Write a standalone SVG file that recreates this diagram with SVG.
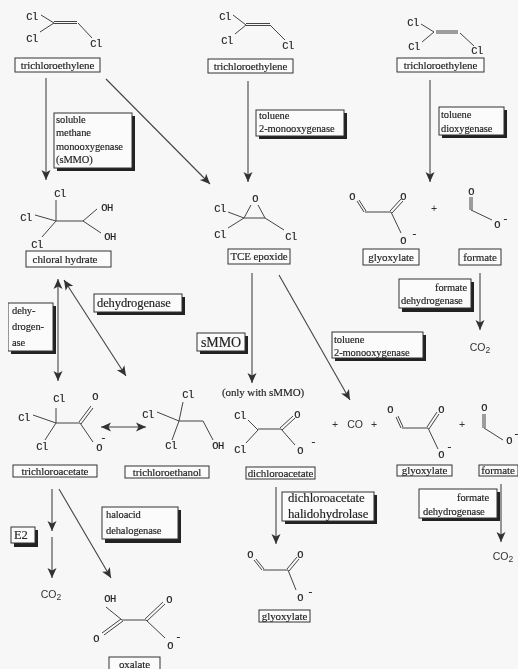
<svg xmlns="http://www.w3.org/2000/svg" width="518" height="669" viewBox="0 0 518 669">
<style>
text{fill:#222;stroke:#222;stroke-width:.15}
.a{font:10.5px "Liberation Mono",monospace;text-anchor:middle;letter-spacing:-.6px}
.l{font:11px "Liberation Serif",serif;text-anchor:middle;letter-spacing:-.1px}
.e{font:10.5px "Liberation Serif",serif;letter-spacing:-.1px}
.big{font:12.5px "Liberation Serif",serif}
.s{font:10.5px "Liberation Sans",sans-serif;text-anchor:middle;fill:#333;stroke:none}
.b{fill:none;stroke:#444;stroke-width:1}
.box{fill:#fbfbfb;stroke:#333;stroke-width:1}
.sh{fill:#222}
.c{fill:none;stroke:#444;stroke-width:1.1;marker-end:url(#h)}
.d{marker-start:url(#h)}
</style>
<defs>
<marker id="h" viewBox="-10 -5 11 10" refX="0" refY="0" markerUnits="userSpaceOnUse" markerWidth="11" markerHeight="10" orient="auto-start-reverse">
<path d="M0,0L-10,-4.500L-7.500,0L-10,4.500Z" fill="#333"/>
</marker>
<filter id="soft" x="0" y="0" width="100%" height="100%"><feGaussianBlur stdDeviation="0.35"/></filter>
</defs>
<rect width="518" height="669" fill="#f7f7f7"/>
<g filter="url(#soft)">
<g id="connectors">
<path class="c" d="M46,78V180"/>
<path class="c" d="M106,79L210,184"/>
<path class="c" d="M248,81V182"/>
<path class="c" d="M430,80V182"/>
<path class="c" d="M480,273V330"/>
<path class="c d" d="M58,279V381"/>
<path class="c d" d="M64,280L126,376"/>
<path class="c" d="M252,273V383"/>
<path class="c" d="M279,275L350,400"/>
<path class="c d" d="M101,427H146"/>
<path class="c" d="M52,489V531"/>
<path class="c" d="M52,537V578"/>
<path class="c" d="M59,489L111,578"/>
<path class="c" d="M276,487V544"/>
<path class="c" d="M501,484V542"/>
</g>
<g id="tce1">
<path class="b" d="M41,15L54,23M40,32L54,23M54,21.500H77M54,23.500H77M78,23L92,38"/>
<text class="a" x="32" y="20">Cl</text><text class="a" x="32" y="42">Cl</text><text class="a" x="96" y="47">Cl</text>
<rect class="box" x="15" y="58" width="85" height="14"/><text class="l" x="57.500" y="68.500">trichloroethylene</text>
</g>
<g id="tce2">
<path class="b" d="M233,15L246,25M235,34L246,25M246,23.500H270M246,25.500H270M270,25L285,40"/>
<text class="a" x="225" y="20">Cl</text><text class="a" x="227" y="44">Cl</text><text class="a" x="288" y="49">Cl</text>
<rect class="box" x="208" y="59" width="85" height="14"/><text class="l" x="250.500" y="69.500">trichloroethylene</text>
</g>
<g id="tce3">
<path class="b" d="M421,24L434,32M422,42L434,32M436,31H458M436,33H458M460,33L474,46"/>
<text class="a" x="413" y="26">Cl</text><text class="a" x="414" y="50">Cl</text><text class="a" x="477" y="54">Cl</text>
<rect class="box" x="397" y="58" width="87" height="14"/><text class="l" x="440.500" y="68.500">trichloroethylene</text>
</g>
<g id="enzyme-smmo">
<rect class="sh" x="57" y="116" width="78" height="55"/><rect class="box" x="54" y="113" width="78" height="55"/>
<text class="e" x="56" y="122.500">soluble</text><text class="e" x="56" y="135.500">methane</text><text class="e" x="56" y="149.500">monooxygenase</text><text class="e" x="56" y="163">(sMMO)</text>
</g>
<g id="enzyme-t2m">
<rect class="sh" x="259" y="113" width="88" height="26"/><rect class="box" x="256" y="110" width="88" height="26"/>
<text class="e" x="259" y="119">toluene</text><text class="e" x="259" y="132">2-monooxygenase</text>
</g>
<g id="enzyme-tdo">
<rect class="sh" x="442" y="110" width="65" height="28"/><rect class="box" x="439" y="107" width="65" height="28"/>
<text class="e" x="441" y="118">toluene</text><text class="e" x="441" y="132">dioxygenase</text>
</g>
<g id="chloral-hydrate">
<path class="b" d="M56,200V221M35,215L56,221M56,221L42,237M56,221H83M83,221L97,209M83,221L101,233"/>
<text class="a" x="60" y="197">Cl</text><text class="a" x="26" y="221">Cl</text><text class="a" x="37" y="248">Cl</text><text class="a" x="107" y="211">OH</text><text class="a" x="110" y="240">OH</text>
<rect class="box" x="26" y="251" width="85" height="16"/><text class="l" x="65" y="262.500">chloral hydrate</text>
</g>
<g id="tce-epoxide">
<path class="b" d="M228,212L244,218M228,228L244,218M244,218L251,205M258,205L265,218M244,218H265M265,218L284,230"/>
<text class="a" x="220" y="212">Cl</text><text class="a" x="220" y="238">Cl</text><text class="a" x="255" y="202">O</text><text class="a" x="291" y="240">Cl</text>
<rect class="box" x="228" y="249" width="62" height="15"/><text class="l" x="259" y="260">TCE epoxide</text>
</g>
<g id="glyoxylate1">
<path class="b" d="M357,201L364,212M359,200L366,211M365,212H391M390,211L401,199M392,213L403,201M391,212L401,233"/>
<text class="a" x="352" y="200">O</text><text class="a" x="403" y="200">O</text><text class="a" x="403" y="244">O</text><text class="a" x="414" y="237">-</text>
<text class="s" x="434" y="212">+</text>
<rect class="box" x="363" y="249" width="56" height="16"/><text class="l" x="391" y="260.500">glyoxylate</text>
</g>
<g id="formate1">
<path class="b" d="M470,197V210M472,197V210M471,210L492,220"/>
<text class="a" x="471" y="195">O</text><text class="a" x="497" y="228">O</text><text class="a" x="505" y="222">-</text>
<rect class="box" x="459" y="249" width="42" height="16"/><text class="l" x="480" y="260.500">formate</text>
</g>
<g id="enzyme-fdh1">
<rect class="sh" x="402" y="282" width="72" height="30"/><rect class="box" x="399" y="279" width="72" height="29"/>
<text class="e" x="435" y="291">formate</text><text class="e" x="401" y="304">dehydrogenase</text>
</g>
<g id="co2-1"><text class="s" x="480" y="351">CO<tspan font-size="8.500" dy="2">2</tspan></text></g>
<g id="enzyme-dh1">
<rect class="sh" x="11" y="306" width="45" height="48"/><rect class="box" x="8" y="303" width="45" height="48"/>
<text class="e" x="12" y="314">dehy-</text><text class="e" x="12" y="330">drogen-</text><text class="e" x="12" y="346">ase</text>
</g>
<g id="enzyme-dh2">
<rect class="sh" x="97" y="297" width="88" height="18"/><rect class="box" x="94" y="294" width="88" height="18"/>
<text class="e big" x="97" y="307">dehydrogenase</text>
</g>
<g id="enzyme-smmo2">
<rect class="sh" x="200" y="336" width="48" height="18"/><rect class="box" x="197" y="333" width="48" height="18"/>
<text class="e big" x="201" y="347" style="font-size:14px">sMMO</text>
</g>
<g id="note"><text class="l" x="263" y="396">(only with sMMO)</text></g>
<g id="enzyme-t2m2">
<rect class="sh" x="335" y="335" width="91" height="26"/><rect class="box" x="332" y="332" width="91" height="26"/>
<text class="e" x="334" y="343">toluene</text><text class="e" x="334" y="356">2-monooxygenase</text>
</g>
<g id="trichloroacetate">
<path class="b" d="M33,415L56,423M56,408V423M56,423L45,440M56,423H80M79,422L91,406M81,424L93,408M80,423L93,442"/>
<text class="a" x="59" y="402">Cl</text><text class="a" x="24" y="421">Cl</text><text class="a" x="42" y="450">Cl</text><text class="a" x="95" y="400">O</text><text class="a" x="99" y="451">O</text><text class="a" x="103" y="441">-</text>
<rect class="box" x="13" y="465" width="84" height="12"/><text class="l" x="55" y="474.500">trichloroacetate</text>
</g>
<g id="trichloroethanol">
<path class="b" d="M157,412L179,421M179,421L183,402M179,421L172,440M179,421H203M203,421L213,440"/>
<text class="a" x="188" y="398">Cl</text><text class="a" x="148" y="418">Cl</text><text class="a" x="171" y="449">Cl</text><text class="a" x="218" y="449">OH</text>
<rect class="box" x="125" y="466" width="84" height="12"/><text class="l" x="167" y="475.500">trichloroethanol</text>
</g>
<g id="dichloroacetate">
<path class="b" d="M248,420L258,430M246,443L258,430M258,429H281M280,428L293,416M282,430L295,418M281,429L295,445"/>
<text class="a" x="240" y="419">Cl</text><text class="a" x="240" y="453">Cl</text><text class="a" x="297" y="418">O</text><text class="a" x="300" y="454">O</text><text class="a" x="313" y="445">-</text>
<rect class="box" x="246" y="467" width="69" height="12"/><text class="l" x="280.500" y="476.500">dichloroacetate</text>
</g>
<g id="co">
<text class="s" x="335" y="428">+</text><text class="s" x="355" y="428">CO</text><text class="s" x="374" y="428">+</text>
</g>
<g id="glyoxylate2">
<path class="b" d="M396,417L401,428M398,416L403,427M402,428H428M427,427L437,412M429,429L439,414M428,428L438,449"/>
<text class="a" x="390" y="413">O</text><text class="a" x="441" y="413">O</text><text class="a" x="441" y="458">O</text><text class="a" x="449" y="450">-</text>
<text class="s" x="462" y="428">+</text>
<rect class="box" x="397" y="465" width="55" height="11"/><text class="l" x="424.500" y="474">glyoxylate</text>
</g>
<g id="formate2">
<path class="b" d="M483,414V428M485,414V428M484,428L503,440"/>
<text class="a" x="484" y="411">O</text><text class="a" x="509" y="444">O</text><text class="a" x="516" y="437">-</text>
<rect class="box" x="479" y="465" width="39" height="11"/><text class="l" x="498" y="474">formate</text>
</g>
<g id="enzyme-dch">
<rect class="sh" x="285" y="495" width="92" height="29"/><rect class="box" x="282" y="492" width="92" height="29"/>
<text class="e" x="288" y="502" style="font-size:12.800px">dichloroacetate</text><text class="e" x="288" y="518" style="font-size:12.800px">halidohydrolase</text>
</g>
<g id="enzyme-fdh2">
<rect class="sh" x="422" y="492" width="78" height="29"/><rect class="box" x="419" y="489" width="78" height="29"/>
<text class="e" x="457" y="501">formate</text><text class="e" x="423" y="515">dehydrogenase</text>
</g>
<g id="co2-2"><text class="s" x="503" y="560">CO<tspan font-size="8.500" dy="2">2</tspan></text></g>
<g id="glyoxylate3">
<path class="b" d="M254,560L262,570M256,559L264,569M263,570H288M287,569L297,557M289,571L299,559M288,570L296,590"/>
<text class="a" x="250" y="558">O</text><text class="a" x="300" y="558">O</text><text class="a" x="300" y="601">O</text><text class="a" x="310" y="595">-</text>
<rect class="box" x="259" y="610" width="51" height="12"/><text class="l" x="284.500" y="619.500">glyoxylate</text>
</g>
<g id="enzyme-e2">
<rect class="sh" x="14" y="530" width="24" height="17"/><rect class="box" x="11" y="527" width="24" height="16"/>
<text class="e big" x="14" y="539">E2</text>
</g>
<g id="enzyme-haloacid">
<rect class="sh" x="105" y="510" width="76" height="33"/><rect class="box" x="102" y="507" width="76" height="32"/>
<text class="e" x="106" y="518">haloacid</text><text class="e" x="106" y="534">dehalogenase</text>
</g>
<g id="co2-3"><text class="s" x="51" y="598">CO<tspan font-size="8.500" dy="2">2</tspan></text></g>
<g id="oxalate">
<path class="b" d="M106,607L122,620M121,619L102,633M123,621L104,635M122,620H146M145,619L163,602M147,621L165,604M146,620L165,638"/>
<text class="a" x="110" y="602">OH</text><text class="a" x="169" y="603">O</text><text class="a" x="96" y="642">O</text><text class="a" x="170" y="649">O</text><text class="a" x="178" y="640">-</text>
<rect class="box" x="109" y="657" width="51" height="14"/><text class="l" x="134.500" y="668">oxalate</text>
</g>
</g>
</svg>
